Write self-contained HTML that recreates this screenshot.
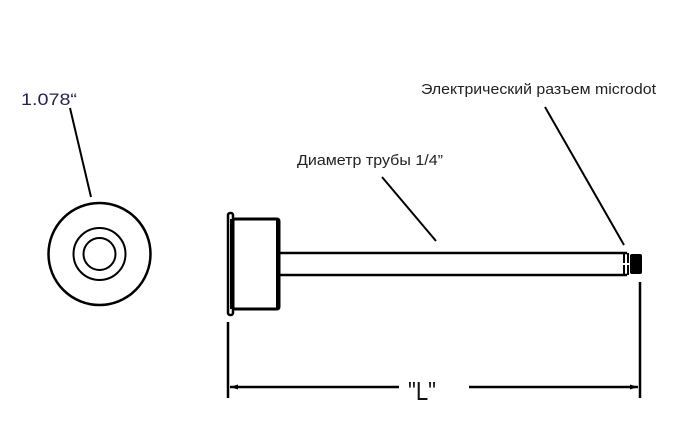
<!DOCTYPE html>
<html><head><meta charset="utf-8"><style>
html,body{margin:0;padding:0;background:#fff;width:700px;height:448px;overflow:hidden}
svg{display:block}
text{font-family:"Liberation Sans",sans-serif}
</style></head><body>
<svg width="700" height="448" viewBox="0 0 700 448">
<text x="21" y="105" font-size="17" fill="#2a2050" textLength="56" lengthAdjust="spacingAndGlyphs">1.078“</text>
<line x1="70" y1="108" x2="91" y2="197" stroke="#000" stroke-width="2"/>
<circle cx="99.5" cy="254" r="51" fill="none" stroke="#000" stroke-width="2.5"/>
<circle cx="99.5" cy="254" r="26" fill="none" stroke="#000" stroke-width="2"/>
<circle cx="99.5" cy="254" r="16" fill="none" stroke="#000" stroke-width="2"/>
<rect x="228" y="213" width="5" height="102" rx="2" fill="none" stroke="#000" stroke-width="2.5"/>
<rect x="233" y="219" width="46" height="90" rx="2" fill="none" stroke="#000" stroke-width="3"/>
<line x1="232" y1="219" x2="232" y2="309" stroke="#000" stroke-width="4"/>
<line x1="278" y1="219" x2="278" y2="309" stroke="#000" stroke-width="4"/>
<line x1="280" y1="253" x2="627" y2="253" stroke="#000" stroke-width="2.5"/>
<line x1="280" y1="275" x2="627" y2="275" stroke="#000" stroke-width="2.5"/>
<line x1="624" y1="253" x2="624" y2="275" stroke="#000" stroke-width="2"/>
<line x1="628" y1="253" x2="628" y2="275" stroke="#000" stroke-width="2"/>
<line x1="623" y1="264" x2="629" y2="264" stroke="#fff" stroke-width="2"/>
<rect x="630" y="254" width="12" height="20" rx="2" fill="#000"/>
<text x="297" y="165" font-size="15" fill="#222" textLength="146" lengthAdjust="spacingAndGlyphs">Диаметр трубы 1/4”</text>
<line x1="382" y1="177" x2="436" y2="241" stroke="#000" stroke-width="2"/>
<text x="421" y="94" font-size="15" fill="#222" textLength="235" lengthAdjust="spacingAndGlyphs">Электрический разъем microdot</text>
<line x1="545" y1="107" x2="624" y2="245" stroke="#000" stroke-width="2"/>
<line x1="228" y1="322" x2="228" y2="398" stroke="#000" stroke-width="2.5"/>
<line x1="640" y1="282" x2="640" y2="398" stroke="#000" stroke-width="2.5"/>
<line x1="230" y1="387" x2="399" y2="387" stroke="#000" stroke-width="2.5"/>
<line x1="469" y1="387" x2="638" y2="387" stroke="#000" stroke-width="2.5"/>
<polygon points="230,387 238,384.5 238,389.5" fill="#000"/>
<polygon points="638,387 630,384.5 630,389.5" fill="#000"/>
<text x="408" y="400" font-size="26" fill="#111" textLength="28" lengthAdjust="spacingAndGlyphs">"L"</text>
</svg>
</body></html>
